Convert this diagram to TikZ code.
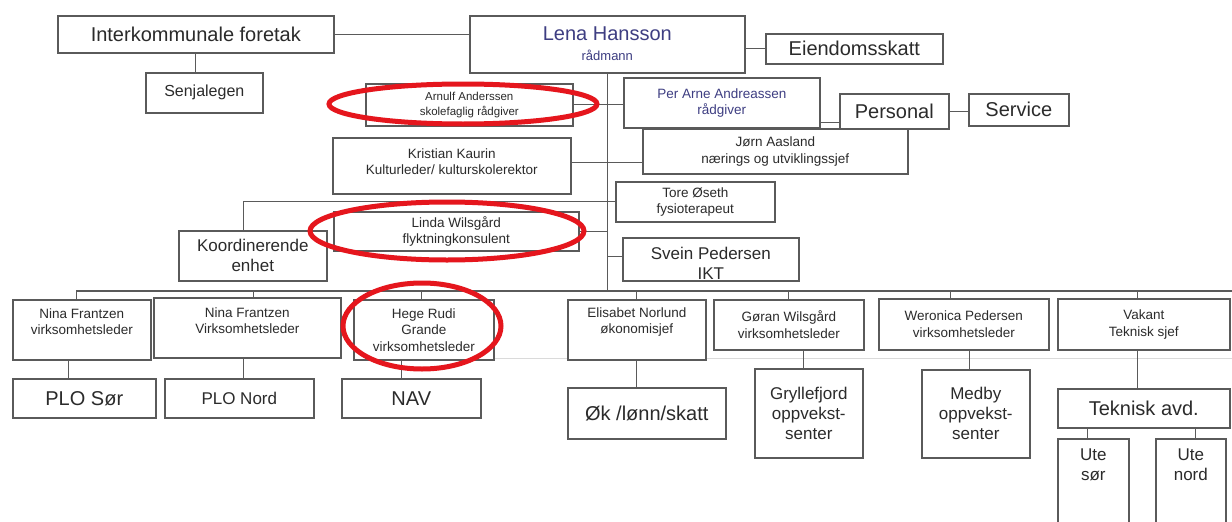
\documentclass[tikz,border=0pt]{standalone}
\usepackage{fontspec}
\setmainfont{Liberation Sans}
\definecolor{bord}{HTML}{5A5A5A}
\definecolor{txt}{HTML}{2B2B2B}
\definecolor{purp}{HTML}{3E3E82}
\definecolor{redring}{HTML}{E5161D}
\definecolor{faint}{HTML}{DADADA}
\begin{document}
\begin{tikzpicture}[x=1pt,y=-1pt,
  box/.style={draw=bord, line width=1.6pt, fill=white, inner sep=0pt, align=center, text=txt, anchor=north west},
  big/.style={font=\fontsize{20}{23}\selectfont},
  mid/.style={font=\fontsize{17}{20}\selectfont},
  sml/.style={font=\fontsize{13.5}{16.5}\selectfont},
  conn/.style={draw=bord, line width=1.3pt},
  ring/.style={draw=redring, line width=5pt},
  lbl/.style={inner sep=0pt, align=center, text=txt}]
\useasboundingbox (0,0) rectangle (1232,522);
\clip (0,0) rectangle (1232,522);
\fill[white] (0,0) rectangle (1232,522);

% faint scan line
\draw[faint, line width=1pt] (493,358) -- (1232,358);

% top level
\node[box, big, minimum width=276pt, minimum height=37pt] (ik) at (57,15) {Interkommunale foretak};
\node[box, minimum width=275pt, minimum height=57pt] (lena) at (469,15) {};
\node[lbl, text=purp, font=\fontsize{20}{20}\selectfont] (lenat) at ([yshift=1pt]lena.center)
  {Lena Hansson\\{\fontsize{13}{15}\selectfont rådmann}};
\node[box, big, minimum width=177pt, minimum height=30pt] (ek) at (765,33) {Eiendomsskatt};
\node[box, font=\fontsize{16}{19}\selectfont, minimum width=117pt, minimum height=40pt] (senja) at (145,72) {Senjalegen};

% staff column
\node[box, font=\fontsize{11.5}{15}\selectfont, minimum width=207pt, minimum height=42pt] (arnulf) at (365,83) {Arnulf Anderssen\\skolefaglig rådgiver};
\node[box, sml, text=purp, minimum width=196pt, minimum height=50pt] (perarne) at (623,77) {Per Arne Andreassen\\rådgiver};
\node[box, big, minimum width=109pt, minimum height=35pt] (personal) at (839,93) {Personal};
\node[box, big, minimum width=100pt, minimum height=32pt] (service) at (968,93) {Service};
\node[box, sml, minimum width=238pt, minimum height=56pt] (kristian) at (332,137) {};
\node[lbl, sml] (kristiant) at ([yshift=4pt]kristian.center) {Kristian Kaurin\\Kulturleder/ kulturskolerektor};
\node[box, sml, minimum width=265pt, minimum height=45pt] (jorn) at (642,128) {Jørn Aasland\\nærings og utviklingssjef};
\node[box, sml, minimum width=159pt, minimum height=40pt] (tore) at (615,181) {Tore Øseth\\fysioterapeut};
\node[box, mid, minimum width=148pt, minimum height=50pt] (koord) at (178,230) {Koordinerende\\enhet};
\node[box, sml, minimum width=245pt, minimum height=39pt] (linda) at (333,211) {Linda Wilsgård\\flyktningkonsulent};
\node[box, minimum width=176pt, minimum height=43pt] (svein) at (622,237) {};
\node[lbl, font=\fontsize{17}{19.5}\selectfont] (sveint) at ([yshift=-4pt]svein.center) {Svein Pedersen\\IKT};

% department row
\node[box, minimum width=138pt, minimum height=60pt] (nina1) at (12,299) {};
\node[lbl, sml] (nina1t) at ([yshift=8pt]nina1.center) {Nina Frantzen\\virksomhetsleder};
\node[box, minimum width=187pt, minimum height=60pt] (nina2) at (153,297) {};
\node[lbl, sml] (nina2t) at ([yshift=7pt]nina2.center) {Nina Frantzen\\Virksomhetsleder};
\node[box, sml, minimum width=140pt, minimum height=60pt] (hege) at (353,299) {Hege Rudi\\Grande\\virksomhetsleder};
\node[box, minimum width=138pt, minimum height=60pt] (elis) at (567,299) {};
\node[lbl, sml] (elist) at ([yshift=8pt]elis.center) {Elisabet Norlund\\økonomisjef};
\node[box, sml, minimum width=150pt, minimum height=50pt] (goran) at (713,299) {Gøran Wilsgård\\virksomhetsleder};
\node[box, sml, minimum width=170pt, minimum height=51pt] (wero) at (878,298) {Weronica Pedersen\\virksomhetsleder};
\node[box, sml, minimum width=172pt, minimum height=51pt] (vakant) at (1057,298) {Vakant\\Teknisk sjef};

% units
\node[box, big, minimum width=143pt, minimum height=39pt] (plosor) at (12,378) {PLO Sør};
\node[box, mid, minimum width=149pt, minimum height=39pt] (plonord) at (164,378) {PLO Nord};
\node[box, big, minimum width=139pt, minimum height=39pt] (nav) at (341,378) {NAV};
\node[box, big, minimum width=158pt, minimum height=51pt] (ok) at (567,387) {Øk /lønn/skatt};
\node[box, mid, minimum width=108pt, minimum height=89pt] (gryl) at (754,368) {Gryllefjord\\oppvekst-\\senter};
\node[box, mid, minimum width=108pt, minimum height=88pt] (medby) at (921,369) {Medby\\oppvekst-\\senter};
\node[box, big, minimum width=172pt, minimum height=39pt] (tek) at (1057,388) {Teknisk avd.};
\node[box, minimum width=71pt, minimum height=100pt] (utesor) at (1057,438) {};
\node[lbl, mid] (utesort) at ([yshift=-27pt]utesor.north) {Ute\\sør};
\node[box, minimum width=70pt, minimum height=100pt] (utenord) at (1155,438) {};
\node[lbl, mid] (utenordt) at ([yshift=-27pt]utenord.north) {Ute\\nord};

% connectors
\coordinate (busL) at (76,291);
\coordinate (busR) at (1232,291);
\draw[conn] (busL) -- (busR);
\draw[conn] (lena.south) -- (lena.south |- busL);
\draw[conn] (ik.east) -- (ik.east -| lena.west);
\draw[conn] (ek.west) -- (ek.west -| lena.east);
\draw[conn] (ik.south) -- (ik.south |- senja.north);
\draw[conn] (arnulf.east) -- (arnulf.east -| perarne.west);
\draw[conn] ([yshift=-20pt]perarne.east) -- ([yshift=-20pt]perarne.east -| personal.west);
\draw[conn] (personal.east) -- (personal.east -| service.west);
\draw[conn] ([yshift=3pt]kristian.east) -- ([yshift=3pt]kristian.east -| jorn.west);
\draw[conn] ([xshift=-9pt]koord.north) |- (tore.west);
\draw[conn] (linda.east) -- (linda.east -| lena.south);
\draw[conn] ([yshift=3pt]svein.west) -- ([yshift=3pt]svein.west -| lena.south);

\draw[conn] ([xshift=-5pt]nina1.north) -- ([xshift=-5pt]nina1.north |- busL);
\draw[conn] ([xshift=6.5pt]nina2.north) -- ([xshift=6.5pt]nina2.north |- busL);
\draw[conn] ([xshift=-2pt]hege.north) -- ([xshift=-2pt]hege.north |- busL);
\draw[conn] (elis.north) -- (elis.north |- busL);
\draw[conn] (goran.north) -- (goran.north |- busL);
\draw[conn] ([xshift=-13pt]wero.north) -- ([xshift=-13pt]wero.north |- busL);
\draw[conn] ([xshift=-6pt]vakant.north) -- ([xshift=-6pt]vakant.north |- busL);

\draw[conn] ([xshift=-16pt]plosor.north) -- ([xshift=-16pt]plosor.north |- nina1.south);
\draw[conn] ([xshift=4.5pt]plonord.north) -- ([xshift=4.5pt]plonord.north |- nina2.south);
\draw[conn] ([xshift=-9.5pt]nav.north) -- ([xshift=-9.5pt]nav.north |- hege.south);
\draw[conn] ([xshift=-10pt]ok.north) -- ([xshift=-10pt]ok.north |- elis.south);
\draw[conn] ([xshift=-5pt]gryl.north) -- ([xshift=-5pt]gryl.north |- goran.south);
\draw[conn] ([xshift=-6pt]medby.north) -- ([xshift=-6pt]medby.north |- wero.south);
\draw[conn] ([xshift=-6pt]tek.north) -- ([xshift=-6pt]tek.north |- vakant.south);
\draw[conn] ([xshift=-5.5pt]utesor.north) -- ([xshift=-5.5pt]utesor.north |- tek.south);
\draw[conn] ([xshift=5pt]utenord.north) -- ([xshift=5pt]utenord.north |- tek.south);

% red highlight rings
\draw[ring] (463,104) ellipse [x radius=134pt, y radius=20pt];
\draw[ring] (447,231) ellipse [x radius=137pt, y radius=29pt];
\draw[ring] (422,326) ellipse [x radius=79pt, y radius=43pt];
\end{tikzpicture}
\end{document}
